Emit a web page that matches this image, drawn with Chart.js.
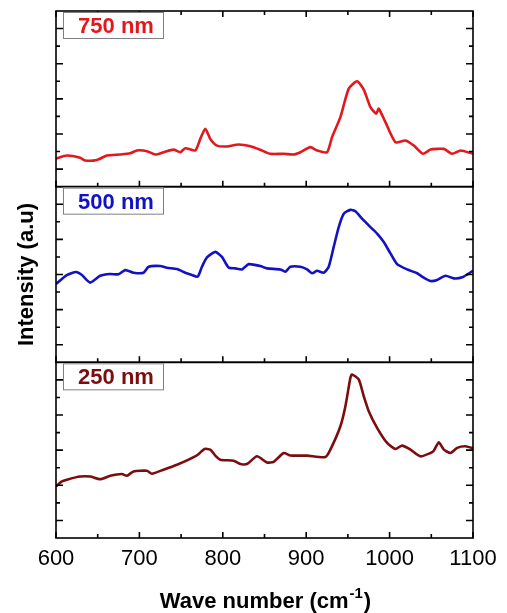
<!DOCTYPE html>
<html>
<head>
<meta charset="utf-8">
<script src="https://cdn.jsdelivr.net/npm/chart.js@4/dist/chart.umd.min.js"></script>
<style>
  body { margin: 0; background: #fff; }
  canvas { display: block; }
</style>
</head>
<body>
<canvas id="raman" width="507" height="613"></canvas>
<script>
// wave number ticks
const xTicks = [600, 700, 800, 900, 1000, 1100];
const xMinor = [650, 750, 850, 950, 1050];

const panelNames = ['750 nm', '500 nm', '250 nm'];
const panelColors = ['#e2191c', '#1212c4', '#7b0d0f'];

// 750 nm
const red750X = [600,613,629,635,649,661,677,689,697,709,719,729,741,749,755,767,773,779,785,793,805,819,833,845,857,873,885,893,905,913,925,931,941,951,961,969,977,984,987,995,1007,1019,1029,1040,1049,1065,1075,1085,1100];
const red750Y = [1.6,1.77,1.64,1.49,1.52,1.77,1.83,1.9,2.06,2.02,1.83,1.96,2.11,1.96,2.19,2.06,2.72,3.3,2.72,2.34,2.29,2.4,2.3,2.1,1.87,1.87,1.83,1.96,2.25,2.06,1.96,2.82,3.96,5.58,6.0,5.52,4.53,4.15,4.44,3.67,2.53,2.63,2.34,1.87,2.11,2.15,1.87,2.06,1.87];

// 500 nm
const blue500X = [600,613,624,631,641,653,665,675,683,693,705,711,725,733,745,755,763,770,775,781,791,799,807,815,823,831,845,853,869,875,881,893,901,907,913,921,927,933,939,945,953,959,967,977,985,993,1001,1009,1021,1033,1041,1049,1057,1067,1077,1087,1100];
const blue500Y = [4.46,4.97,5.14,4.97,4.54,4.93,5.03,5.01,5.25,5.1,5.1,5.44,5.48,5.38,5.31,5.1,4.97,4.88,5.44,5.97,6.29,6.0,5.4,5.35,5.29,5.59,5.48,5.35,5.29,5.16,5.44,5.44,5.29,5.07,5.21,5.1,5.44,6.57,7.7,8.46,8.68,8.6,8.18,7.7,7.33,6.85,6.2,5.59,5.29,5.07,4.82,4.63,4.69,4.93,4.78,4.84,5.21];

// 250 nm
const brown250X = [600,607,615,629,641,653,665,679,685,693,709,715,729,745,759,770,778,785,791,797,813,821,829,841,853,861,873,881,901,923,929,941,947,953,955,963,969,975,985,997,1007,1015,1025,1037,1049,1053,1059,1065,1073,1081,1091,1100];
const brown250Y = [2.93,3.22,3.35,3.5,3.5,3.35,3.54,3.64,3.54,3.79,3.83,3.66,3.89,4.17,4.46,4.74,5.07,5.03,4.69,4.46,4.4,4.21,4.21,4.65,4.3,4.34,4.84,4.7,4.69,4.61,5.03,6.36,7.5,9.12,9.31,9.03,8.07,7.22,6.27,5.41,5.07,5.26,5.03,4.65,4.84,4.97,5.45,5.03,4.84,5.13,5.22,5.1];

const FONT = "'Liberation Sans', Arial, sans-serif";

function toPoints(xs, ys) {
  return xs.map((x, i) => ({ x: x, y: ys[i] }));
}

function panelAxis() {
  return {
    type: 'linear',
    position: 'left',
    stack: 'panels',
    stackWeight: 1,
    min: 0,
    max: 10,
    ticks: { display: false, stepSize: 1 },
    grid: { display: false, drawTicks: false },
    border: { display: false },
    afterFit: s => { s.width = 56; }
  };
}

// frames, inward ticks, sample boxes and axis titles
const framePlugin = {
  id: 'frames',
  afterDraw(chart) {
    const ctx = chart.ctx;
    const a = chart.chartArea;
    const x = chart.scales.x;
    const ids = ['y750', 'y500', 'y250'];
    const topMost = Math.min(...ids.map(id => chart.scales[id].top));
    ctx.save();
    ids.forEach((id, i) => {
      const s = chart.scales[id];
      ctx.strokeStyle = '#000';
      ctx.lineWidth = 1.6;
      ctx.beginPath();
      xTicks.concat(xMinor).forEach(v => {
        const px = x.getPixelForValue(v);
        const len = xTicks.includes(v) ? 6 : 4;
        ctx.moveTo(px, s.bottom);
        ctx.lineTo(px, s.bottom - len);
        if (s.top === topMost) {
          ctx.moveTo(px, s.top);
          ctx.lineTo(px, s.top + len);
        }
      });
      s.ticks.forEach(t => {
        if (t.value <= 0 || t.value >= 10) return;
        const py = s.getPixelForValue(t.value);
        const len = t.value % 2 ? 7 : 4;
        ctx.moveTo(a.left, py);
        ctx.lineTo(a.left + len, py);
        ctx.moveTo(a.right, py);
        ctx.lineTo(a.right - len, py);
      });
      ctx.stroke();
      ctx.strokeRect(a.left, s.top, a.right - a.left, s.bottom - s.top);

      // sample label
      const bx = a.left + 7, by = s.top + 1;
      ctx.fillStyle = '#fff';
      ctx.fillRect(bx, by, 100, 26);
      ctx.strokeStyle = '#808080';
      ctx.lineWidth = 1;
      ctx.strokeRect(bx + 0.5, by + 0.5, 100, 26);
      ctx.fillStyle = panelColors[i];
      ctx.font = 'bold 22px ' + FONT;
      ctx.textAlign = 'center';
      ctx.textBaseline = 'alphabetic';
      ctx.fillText(panelNames[i], bx + 53, by + 21);
    });

    // y title
    ctx.fillStyle = '#000';
    ctx.font = 'bold 22px ' + FONT;
    ctx.save();
    ctx.translate(33, (topMost + a.bottom) / 2);
    ctx.rotate(-Math.PI / 2);
    ctx.textAlign = 'center';
    ctx.fillText('Intensity (a.u)', 0, 0);
    ctx.restore();

    // x title with superscript
    const main = 'Wave number (cm';
    const sup = '-1';
    const end = ')';
    ctx.font = 'bold 22px ' + FONT;
    const w1 = ctx.measureText(main).width;
    const w3 = ctx.measureText(end).width;
    ctx.font = 'bold 15px ' + FONT;
    const w2 = ctx.measureText(sup).width;
    let cx = (a.left + a.right) / 2 - (w1 + w2 + w3) / 2;
    const base = 608;
    ctx.textAlign = 'left';
    ctx.font = 'bold 22px ' + FONT;
    ctx.fillText(main, cx, base);
    ctx.font = 'bold 15px ' + FONT;
    ctx.fillText(sup, cx + w1 + 1, base - 10);
    ctx.font = 'bold 22px ' + FONT;
    ctx.fillText(end, cx + w1 + w2 + 2, base);
    ctx.restore();
  }
};

const lineStyle = { borderWidth: 2.6, pointRadius: 0, tension: 0.2, fill: false };

new Chart(document.getElementById('raman'), {
  type: 'line',
  data: {
    datasets: [
      Object.assign({ label: '750 nm', data: toPoints(red750X, red750Y), borderColor: panelColors[0], yAxisID: 'y750' }, lineStyle),
      Object.assign({ label: '500 nm', data: toPoints(blue500X, blue500Y), borderColor: panelColors[1], yAxisID: 'y500' }, lineStyle),
      Object.assign({ label: '250 nm', data: toPoints(brown250X, brown250Y), borderColor: panelColors[2], yAxisID: 'y250' }, lineStyle)
    ]
  },
  options: {
    responsive: false,
    animation: false,
    layout: { padding: { top: 11, right: 34, left: 0, bottom: 0 } },
    plugins: { legend: { display: false }, tooltip: { enabled: false } },
    scales: {
      x: {
        type: 'linear',
        min: 600,
        max: 1100,
        ticks: {
          stepSize: 100,
          autoSkip: false,
          maxRotation: 0,
          padding: 8,
          color: '#000',
          font: { family: FONT, size: 22 },
          callback: v => String(v)
        },
        grid: { display: false, drawTicks: false },
        border: { display: false },
        afterFit: s => { s.height = 75; }
      },
      y250: panelAxis(),
      y500: panelAxis(),
      y750: panelAxis()
    }
  },
  plugins: [framePlugin]
});
</script>
</body>
</html>
